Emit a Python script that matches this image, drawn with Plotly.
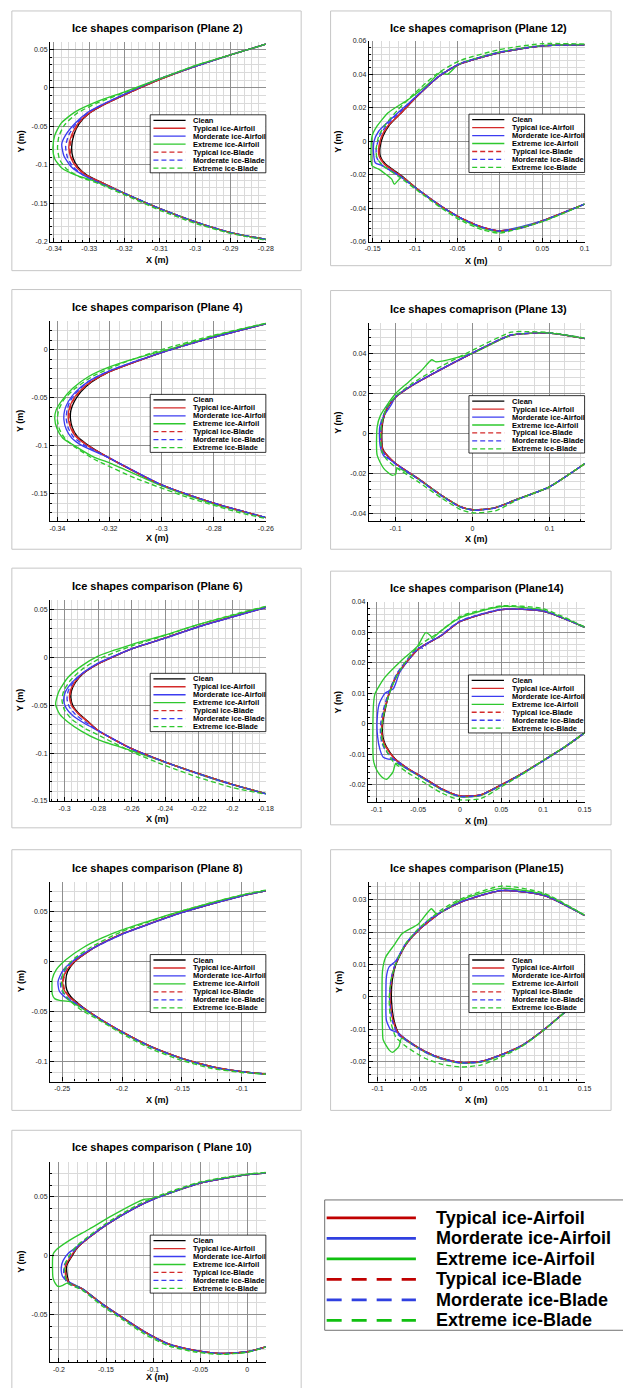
import plotly.graph_objects as go

W, H = 623, 1388
FONT = "Liberation Sans"

SERIES = ["Clean", "Typical ice-Airfoil", "Morderate ice-Airfoil", "Extreme ice-Airfoil",
          "Typical ice-Blade", "Morderate ice-Blade", "Extreme ice-Blade"]
KEY_SERIES = SERIES[1:]

TITLES = ["Ice shapes comparison (Plane 2)", "Ice shapes comaprison (Plane 12)",
          "Ice shapes comparison (Plane 4)", "Ice shapes comaprison (Plane 13)",
          "Ice shapes comparison (Plane 6)", "Ice shapes comparison (Plane14)",
          "Ice shapes comparison (Plane 8)", "Ice shapes comparison (Plane15)",
          "Ice shapes comparison ( Plane 10)"]

# ---------------- Plane 2 ----------------
P2_XT = [-0.34, -0.33, -0.32, -0.31, -0.30, -0.29, -0.28]
P2_YT = [-0.2, -0.15, -0.1, -0.05, 0, 0.05]
P2_CLEAN_X = [-0.28, -0.29, -0.30, -0.31, -0.32, -0.326, -0.330, -0.3328, -0.3343, -0.3350, -0.3346, -0.3332, -0.3305, -0.326, -0.32, -0.31, -0.30, -0.29, -0.28]
P2_CLEAN_Y = [0.057, 0.043, 0.028, 0.011, -0.009, -0.022, -0.033, -0.046, -0.060, -0.077, -0.091, -0.103, -0.114, -0.124, -0.137, -0.157, -0.174, -0.188, -0.197]
P2_TYP_AF_X = [-0.28, -0.29, -0.30, -0.31, -0.32, -0.326, -0.3302, -0.3332, -0.3350, -0.3358, -0.3352, -0.3336, -0.3308, -0.326, -0.32, -0.31, -0.30, -0.29, -0.28]
P2_TYP_AF_Y = [0.057, 0.043, 0.028, 0.011, -0.009, -0.022, -0.033, -0.046, -0.061, -0.077, -0.091, -0.103, -0.114, -0.124, -0.137, -0.157, -0.174, -0.188, -0.197]
P2_MOD_AF_X = [-0.28, -0.29, -0.30, -0.31, -0.32, -0.326, -0.3305, -0.3340, -0.3368, -0.3378, -0.3372, -0.3352, -0.3318, -0.327, -0.32, -0.31, -0.30, -0.29, -0.28]
P2_MOD_AF_Y = [0.057, 0.043, 0.028, 0.012, -0.008, -0.021, -0.032, -0.046, -0.062, -0.073, -0.088, -0.102, -0.113, -0.123, -0.137, -0.157, -0.174, -0.188, -0.197]
P2_EXT_AF_X = [-0.28, -0.29, -0.30, -0.31, -0.32, -0.328, -0.334, -0.3380, -0.3398, -0.3403, -0.3398, -0.3378, -0.334, -0.328, -0.32, -0.31, -0.30, -0.29, -0.28]
P2_EXT_AF_Y = [0.057, 0.043, 0.029, 0.012, -0.005, -0.018, -0.031, -0.046, -0.062, -0.078, -0.092, -0.104, -0.113, -0.122, -0.137, -0.157, -0.174, -0.188, -0.197]
P2_TYP_BL_X = [-0.28, -0.29, -0.30, -0.31, -0.32, -0.326, -0.3301, -0.3330, -0.3347, -0.3355, -0.3350, -0.3334, -0.3306, -0.326, -0.32, -0.31, -0.30, -0.29, -0.28]
P2_TYP_BL_Y = [0.057, 0.043, 0.028, 0.011, -0.009, -0.022, -0.033, -0.046, -0.061, -0.077, -0.091, -0.103, -0.114, -0.124, -0.137, -0.157, -0.174, -0.188, -0.197]
P2_MOD_BL_X = [-0.28, -0.29, -0.30, -0.31, -0.32, -0.326, -0.3304, -0.3336, -0.3358, -0.3367, -0.3362, -0.3345, -0.3314, -0.327, -0.32, -0.31, -0.30, -0.29, -0.28]
P2_MOD_BL_Y = [0.057, 0.043, 0.028, 0.012, -0.008, -0.021, -0.032, -0.046, -0.061, -0.076, -0.090, -0.103, -0.114, -0.124, -0.137, -0.157, -0.174, -0.188, -0.197]
P2_EXT_BL_X = [-0.28, -0.29, -0.30, -0.31, -0.32, -0.328, -0.3335, -0.3370, -0.3386, -0.3390, -0.3384, -0.3365, -0.3330, -0.327, -0.32, -0.31, -0.30, -0.29, -0.28]
P2_EXT_BL_Y = [0.057, 0.043, 0.029, 0.012, -0.006, -0.020, -0.033, -0.048, -0.063, -0.078, -0.093, -0.105, -0.115, -0.125, -0.139, -0.159, -0.176, -0.189, -0.198]

# ---------------- Plane 12 ----------------
P12_XT = [-0.15, -0.1, -0.05, 0, 0.05, 0.1]
P12_YT = [-0.06, -0.04, -0.02, 0, 0.02, 0.04, 0.06]
P12_CLEAN_X = [0.10, 0.05, 0.0, -0.048, -0.072, -0.097, -0.116, -0.131, -0.138, -0.1415, -0.141, -0.135, -0.116, -0.097, -0.070, -0.047, -0.020, 0.0, 0.027, 0.05, 0.10]
P12_CLEAN_Y = [0.0576, 0.057, 0.053, 0.046, 0.0387, 0.0272, 0.0172, 0.0093, 0.003, -0.004, -0.009, -0.0136, -0.0206, -0.0286, -0.0385, -0.0455, -0.0514, -0.0535, -0.0514, -0.0475, -0.0375]
P12_TYP_AF_X = [0.10, 0.05, 0.0, -0.048, -0.072, -0.097, -0.116, -0.132, -0.1395, -0.1430, -0.1425, -0.1365, -0.117, -0.097, -0.070, -0.047, -0.020, 0.0, 0.027, 0.05, 0.10]
P12_TYP_AF_Y = [0.0576, 0.057, 0.053, 0.046, 0.0387, 0.0272, 0.0172, 0.0093, 0.003, -0.004, -0.009, -0.0136, -0.0206, -0.0286, -0.0385, -0.0455, -0.0514, -0.0535, -0.0514, -0.0475, -0.0375]
P12_MOD_AF_X = [0.10, 0.05, 0.0, -0.048, -0.072, -0.097, -0.117, -0.132, -0.143, -0.1485, -0.149, -0.147, -0.139, -0.118, -0.097, -0.070, -0.047, -0.020, 0.0, 0.05, 0.10]
P12_MOD_AF_Y = [0.0576, 0.057, 0.053, 0.046, 0.0387, 0.0275, 0.0185, 0.0115, 0.006, 0.000, -0.007, -0.0128, -0.0145, -0.0208, -0.0286, -0.0385, -0.0455, -0.0514, -0.0535, -0.0475, -0.0375]
P12_EXT_AF_X = [0.10, 0.05, 0.0, -0.048, -0.062, -0.0697, -0.085, -0.108, -0.1315, -0.145, -0.1508, -0.1508, -0.143, -0.1276, -0.1245, -0.116, -0.097, -0.070, -0.047, -0.020, 0.0, 0.05, 0.10]
P12_EXT_AF_Y = [0.0578, 0.0572, 0.0533, 0.0462, 0.040, 0.0415, 0.034, 0.025, 0.0172, 0.009, 0.003, -0.0146, -0.0166, -0.0226, -0.0256, -0.0215, -0.0288, -0.0388, -0.046, -0.052, -0.054, -0.0478, -0.0375]
P12_TYP_BL_X = [0.10, 0.05, 0.0, -0.048, -0.072, -0.097, -0.116, -0.1318, -0.1390, -0.1425, -0.1420, -0.1362, -0.1165, -0.097, -0.070, -0.047, -0.020, 0.0, 0.027, 0.05, 0.10]
P12_TYP_BL_Y = [0.0576, 0.057, 0.053, 0.046, 0.0387, 0.0272, 0.0172, 0.0093, 0.003, -0.004, -0.009, -0.0136, -0.0206, -0.0286, -0.0385, -0.0455, -0.0514, -0.0535, -0.0514, -0.0475, -0.0375]
P12_MOD_BL_X = [0.10, 0.05, 0.0, -0.048, -0.072, -0.097, -0.117, -0.133, -0.1415, -0.1458, -0.1455, -0.1395, -0.118, -0.097, -0.070, -0.047, -0.020, 0.0, 0.027, 0.05, 0.10]
P12_MOD_BL_Y = [0.0576, 0.057, 0.0532, 0.0462, 0.0389, 0.0276, 0.0180, 0.0100, 0.0035, -0.0040, -0.0095, -0.0140, -0.0208, -0.0288, -0.0387, -0.0457, -0.0516, -0.0537, -0.0515, -0.0476, -0.0375]
P12_EXT_BL_X = [0.10, 0.05, 0.0, -0.048, -0.075, -0.10, -0.12, -0.135, -0.143, -0.146, -0.145, -0.138, -0.118, -0.097, -0.070, -0.047, -0.020, 0.0, 0.05, 0.10]
P12_EXT_BL_Y = [0.0580, 0.0583, 0.0548, 0.048, 0.040, 0.029, 0.019, 0.010, 0.003, -0.005, -0.010, -0.0145, -0.0215, -0.0295, -0.0395, -0.047, -0.053, -0.0548, -0.048, -0.0375]

# ---------------- Plane 4 ----------------
P4_XT = [-0.34, -0.32, -0.30, -0.28, -0.26]
P4_YT = [-0.15, -0.1, -0.05, 0]
P4_CLEAN_X = [-0.26, -0.28, -0.30, -0.32, -0.327, -0.331, -0.3335, -0.3348, -0.3350, -0.3343, -0.3325, -0.329, -0.32, -0.30, -0.28, -0.26]
P4_CLEAN_Y = [0.027, 0.013, -0.003, -0.023, -0.034, -0.044, -0.054, -0.063, -0.072, -0.081, -0.090, -0.098, -0.113, -0.141, -0.160, -0.175]
P4_TYP_AF_X = [-0.26, -0.28, -0.30, -0.32, -0.3275, -0.3318, -0.3344, -0.3356, -0.3358, -0.3350, -0.3331, -0.3295, -0.32, -0.30, -0.28, -0.26]
P4_TYP_AF_Y = [0.027, 0.013, -0.003, -0.023, -0.034, -0.044, -0.054, -0.063, -0.072, -0.081, -0.090, -0.098, -0.113, -0.141, -0.160, -0.175]
P4_MOD_AF_X = [-0.26, -0.28, -0.30, -0.32, -0.328, -0.333, -0.3358, -0.3372, -0.3375, -0.3366, -0.3345, -0.3305, -0.32, -0.30, -0.28, -0.26]
P4_MOD_AF_Y = [0.027, 0.013, -0.003, -0.022, -0.033, -0.044, -0.054, -0.063, -0.073, -0.083, -0.092, -0.100, -0.113, -0.141, -0.160, -0.175]
P4_EXT_AF_X = [-0.26, -0.28, -0.295, -0.31, -0.32, -0.328, -0.334, -0.338, -0.3405, -0.3410, -0.3402, -0.338, -0.3335, -0.326, -0.32, -0.30, -0.28, -0.26]
P4_EXT_AF_Y = [0.0275, 0.0145, 0.002, -0.009, -0.018, -0.028, -0.040, -0.052, -0.063, -0.072, -0.082, -0.092, -0.100, -0.112, -0.118, -0.142, -0.161, -0.175]
P4_TYP_BL_X = [-0.26, -0.28, -0.30, -0.32, -0.3273, -0.3315, -0.3341, -0.3353, -0.3355, -0.3347, -0.3328, -0.3293, -0.32, -0.30, -0.28, -0.26]
P4_TYP_BL_Y = [0.027, 0.013, -0.003, -0.023, -0.034, -0.044, -0.054, -0.063, -0.072, -0.081, -0.090, -0.098, -0.113, -0.141, -0.160, -0.175]
P4_MOD_BL_X = [-0.26, -0.28, -0.30, -0.32, -0.328, -0.3325, -0.3352, -0.3363, -0.3366, -0.3358, -0.3338, -0.3300, -0.32, -0.30, -0.28, -0.26]
P4_MOD_BL_Y = [0.027, 0.013, -0.003, -0.022, -0.033, -0.044, -0.054, -0.063, -0.072, -0.082, -0.091, -0.099, -0.113, -0.141, -0.160, -0.175]
P4_EXT_BL_X = [-0.26, -0.28, -0.30, -0.315, -0.326, -0.333, -0.3375, -0.3395, -0.3400, -0.3392, -0.337, -0.333, -0.326, -0.31, -0.29, -0.27, -0.26]
P4_EXT_BL_Y = [0.0275, 0.0150, 0.000, -0.014, -0.027, -0.040, -0.052, -0.063, -0.073, -0.083, -0.093, -0.102, -0.114, -0.134, -0.154, -0.170, -0.176]

# ---------------- Plane 13 ----------------
P13_XT = [-0.1, 0, 0.1]
P13_YT = [-0.04, -0.02, 0, 0.02, 0.04]
P13_CLEAN_X = [0.146, 0.10, 0.05, 0.0, -0.05, -0.08, -0.10, -0.111, -0.1165, -0.118, -0.1165, -0.111, -0.10, -0.071, -0.041, -0.016, 0.0, 0.027, 0.061, 0.10, 0.146]
P13_CLEAN_Y = [0.0473, 0.0500, 0.0490, 0.0400, 0.0300, 0.0235, 0.0180, 0.0125, 0.006, -0.002, -0.008, -0.011, -0.0152, -0.0226, -0.0309, -0.0367, -0.0383, -0.0375, -0.0326, -0.0268, -0.0152]
P13_TYP_AF_X = [0.146, 0.10, 0.05, 0.0, -0.05, -0.08, -0.10, -0.1115, -0.1172, -0.1188, -0.1172, -0.1115, -0.10, -0.071, -0.041, -0.016, 0.0, 0.027, 0.061, 0.10, 0.146]
P13_TYP_AF_Y = [0.0473, 0.0500, 0.0490, 0.0400, 0.0300, 0.0235, 0.0180, 0.0125, 0.006, -0.002, -0.008, -0.011, -0.0152, -0.0226, -0.0309, -0.0367, -0.0383, -0.0375, -0.0326, -0.0268, -0.0152]
P13_MOD_AF_X = [0.146, 0.10, 0.05, 0.0, -0.05, -0.08, -0.10, -0.106, -0.1155, -0.1205, -0.121, -0.1195, -0.1150, -0.109, -0.10, -0.071, -0.041, -0.016, 0.0, 0.027, 0.061, 0.10, 0.146]
P13_MOD_AF_Y = [0.0473, 0.0500, 0.0490, 0.0400, 0.0300, 0.0236, 0.0182, 0.0140, 0.0085, 0.0035, -0.002, -0.0075, -0.0115, -0.0128, -0.0153, -0.0227, -0.0310, -0.0368, -0.0384, -0.0376, -0.0326, -0.0268, -0.0152]
P13_EXT_AF_X = [0.146, 0.10, 0.05, 0.0, -0.0476, -0.053, -0.0667, -0.0837, -0.1006, -0.1197, -0.124, -0.124, -0.1155, -0.105, -0.100, -0.098, -0.071, -0.041, -0.016, 0.0, 0.027, 0.061, 0.10, 0.146]
P13_EXT_AF_Y = [0.0473, 0.0500, 0.0490, 0.0400, 0.0357, 0.0367, 0.0312, 0.0254, 0.0196, 0.0089, 0.0030, -0.0110, -0.0176, -0.0210, -0.0205, -0.0175, -0.0228, -0.0310, -0.0368, -0.0384, -0.0375, -0.0326, -0.0268, -0.0152]
P13_TYP_BL_X = [0.146, 0.10, 0.05, 0.0, -0.05, -0.08, -0.10, -0.1112, -0.1168, -0.1184, -0.1168, -0.1112, -0.10, -0.071, -0.041, -0.016, 0.0, 0.027, 0.061, 0.10, 0.146]
P13_TYP_BL_Y = [0.0473, 0.0500, 0.0490, 0.0400, 0.0300, 0.0235, 0.0180, 0.0125, 0.006, -0.002, -0.008, -0.011, -0.0152, -0.0226, -0.0309, -0.0367, -0.0383, -0.0375, -0.0326, -0.0268, -0.0152]
P13_MOD_BL_X = [0.146, 0.10, 0.05, 0.0, -0.05, -0.08, -0.10, -0.112, -0.118, -0.1195, -0.118, -0.112, -0.10, -0.071, -0.041, -0.016, 0.0, 0.027, 0.061, 0.10, 0.146]
P13_MOD_BL_Y = [0.0474, 0.0501, 0.0491, 0.0402, 0.0302, 0.0237, 0.0182, 0.0127, 0.0060, -0.0020, -0.0085, -0.0115, -0.0155, -0.0229, -0.0312, -0.0370, -0.0385, -0.0376, -0.0327, -0.0268, -0.0152]
P13_EXT_BL_X = [0.146, 0.10, 0.07, 0.05, 0.0, -0.05, -0.08, -0.10, -0.112, -0.118, -0.1195, -0.118, -0.112, -0.10, -0.07, -0.04, -0.015, 0.0, 0.03, 0.061, 0.10, 0.146]
P13_EXT_BL_Y = [0.0475, 0.0503, 0.0508, 0.0505, 0.0415, 0.0315, 0.0245, 0.0185, 0.0125, 0.005, -0.002, -0.009, -0.013, -0.0170, -0.0245, -0.0325, -0.0383, -0.0398, -0.0388, -0.0328, -0.0268, -0.0152]

# ---------------- Plane 6 ----------------
P6_XT = [-0.3, -0.28, -0.26, -0.24, -0.22, -0.2, -0.18]
P6_YT = [-0.15, -0.1, -0.05, 0, 0.05]
P6_CLEAN_X = [-0.18, -0.20, -0.22, -0.24, -0.26, -0.28, -0.289, -0.2935, -0.2958, -0.2962, -0.2950, -0.2915, -0.286, -0.28, -0.26, -0.24, -0.22, -0.20, -0.18]
P6_CLEAN_Y = [0.0524, 0.0425, 0.0323, 0.0204, 0.0090, -0.0067, -0.0170, -0.0260, -0.0345, -0.0425, -0.0505, -0.0585, -0.0670, -0.0763, -0.0954, -0.1093, -0.1215, -0.1326, -0.1424]
P6_TYP_AF_X = [-0.18, -0.20, -0.22, -0.24, -0.26, -0.28, -0.2893, -0.2940, -0.2965, -0.2970, -0.2957, -0.2920, -0.2863, -0.28, -0.26, -0.24, -0.22, -0.20, -0.18]
P6_TYP_AF_Y = [0.0524, 0.0425, 0.0323, 0.0204, 0.0090, -0.0067, -0.0170, -0.0260, -0.0345, -0.0425, -0.0505, -0.0585, -0.0670, -0.0763, -0.0954, -0.1093, -0.1215, -0.1326, -0.1424]
P6_MOD_AF_X = [-0.18, -0.20, -0.22, -0.24, -0.26, -0.28, -0.289, -0.2955, -0.2995, -0.3005, -0.2990, -0.2950, -0.288, -0.28, -0.26, -0.24, -0.22, -0.20, -0.18]
P6_MOD_AF_Y = [0.0522, 0.0423, 0.0321, 0.0202, 0.0090, -0.0060, -0.0160, -0.0260, -0.0360, -0.0450, -0.0530, -0.0610, -0.0690, -0.0765, -0.0955, -0.1095, -0.1218, -0.1330, -0.1426]
P6_EXT_AF_X = [-0.18, -0.20, -0.22, -0.24, -0.26, -0.28, -0.29, -0.298, -0.3035, -0.3053, -0.303, -0.298, -0.29, -0.28, -0.27, -0.26, -0.24, -0.22, -0.20, -0.18]
P6_EXT_AF_Y = [0.0530, 0.0440, 0.0345, 0.0235, 0.0135, 0.0015, -0.0090, -0.0210, -0.0360, -0.0490, -0.0590, -0.0675, -0.0770, -0.0860, -0.0920, -0.0975, -0.1095, -0.1218, -0.1328, -0.1424]
P6_TYP_BL_X = [-0.18, -0.20, -0.22, -0.24, -0.26, -0.28, -0.2892, -0.2938, -0.2962, -0.2967, -0.2955, -0.2918, -0.2862, -0.28, -0.26, -0.24, -0.22, -0.20, -0.18]
P6_TYP_BL_Y = [0.0524, 0.0425, 0.0323, 0.0204, 0.0090, -0.0067, -0.0170, -0.0260, -0.0345, -0.0425, -0.0505, -0.0585, -0.0670, -0.0763, -0.0954, -0.1093, -0.1215, -0.1326, -0.1424]
P6_MOD_BL_X = [-0.18, -0.20, -0.22, -0.24, -0.26, -0.28, -0.2892, -0.2948, -0.2978, -0.2985, -0.2972, -0.2935, -0.2872, -0.28, -0.26, -0.24, -0.22, -0.20, -0.18]
P6_MOD_BL_Y = [0.0523, 0.0424, 0.0322, 0.0203, 0.0090, -0.0063, -0.0165, -0.0260, -0.0350, -0.0435, -0.0515, -0.0595, -0.0680, -0.0764, -0.0955, -0.1094, -0.1217, -0.1328, -0.1425]
P6_EXT_BL_X = [-0.18, -0.20, -0.22, -0.24, -0.26, -0.28, -0.29, -0.2965, -0.3005, -0.3015, -0.300, -0.296, -0.288, -0.28, -0.26, -0.24, -0.22, -0.20, -0.18]
P6_EXT_BL_Y = [0.0535, 0.0445, 0.0345, 0.0230, 0.0120, -0.0020, -0.0130, -0.0240, -0.0350, -0.0450, -0.0550, -0.0640, -0.0740, -0.0810, -0.0985, -0.1130, -0.1255, -0.1360, -0.1430]

# ---------------- Plane 14 ----------------
P14_XT = [-0.1, -0.05, 0, 0.05, 0.1, 0.15]
P14_YT = [-0.02, -0.01, 0, 0.01, 0.02, 0.03, 0.04]
P14_CLEAN_X = [0.15, 0.10, 0.05, 0.0, -0.023, -0.05, -0.075, -0.085, -0.090, -0.0925, -0.0930, -0.0915, -0.0882, -0.0783, -0.0626, -0.0429, -0.0232, 0.0, 0.0248, 0.0496, 0.0752, 0.1008, 0.1264, 0.15]
P14_CLEAN_Y = [0.0317, 0.0370, 0.0375, 0.0335, 0.0288, 0.0245, 0.0163, 0.0098, 0.0043, 0.0005, -0.0030, -0.0055, -0.0076, -0.0114, -0.0147, -0.0179, -0.0212, -0.0237, -0.0234, -0.0201, -0.0163, -0.0120, -0.0076, -0.0030]
P14_TYP_AF_X = [0.15, 0.10, 0.05, 0.0, -0.023, -0.05, -0.075, -0.0855, -0.0908, -0.0935, -0.0942, -0.0925, -0.0890, -0.0788, -0.0626, -0.0429, -0.0232, 0.0, 0.0248, 0.0496, 0.0752, 0.1008, 0.1264, 0.15]
P14_TYP_AF_Y = [0.0317, 0.0370, 0.0375, 0.0335, 0.0288, 0.0245, 0.0163, 0.0098, 0.0043, 0.0005, -0.0030, -0.0055, -0.0076, -0.0114, -0.0147, -0.0179, -0.0212, -0.0237, -0.0234, -0.0201, -0.0163, -0.0120, -0.0076, -0.0030]
P14_MOD_AF_X = [0.15, 0.10, 0.05, 0.0, -0.023, -0.05, -0.072, -0.080, -0.090, -0.097, -0.0995, -0.099, -0.0960, -0.0921, -0.0862, -0.0783, -0.0626, -0.0429, -0.0232, 0.0, 0.0248, 0.0496, 0.0752, 0.1008, 0.1264, 0.15]
P14_MOD_AF_Y = [0.0317, 0.0370, 0.0375, 0.0336, 0.0289, 0.0246, 0.0170, 0.0115, 0.0100, 0.0065, 0.0010, -0.0040, -0.0085, -0.0110, -0.0116, -0.0118, -0.0148, -0.0180, -0.0213, -0.0238, -0.0235, -0.0202, -0.0164, -0.0121, -0.0076, -0.0030]
P14_EXT_AF_X = [0.15, 0.10, 0.05, 0.0, -0.025, -0.033, -0.035, -0.041, -0.0508, -0.0705, -0.0902, -0.102, -0.1039, -0.1039, -0.100, -0.0941, -0.0882, -0.0803, -0.077, -0.0626, -0.0429, -0.0232, 0.0, 0.0248, 0.0496, 0.0752, 0.1008, 0.1264, 0.15]
P14_EXT_AF_Y = [0.0316, 0.0373, 0.0385, 0.0348, 0.0300, 0.0280, 0.0288, 0.0299, 0.0255, 0.0207, 0.0152, 0.0098, 0.0060, -0.0120, -0.0152, -0.0174, -0.0183, -0.0158, -0.0130, -0.0150, -0.0182, -0.0215, -0.0240, -0.0236, -0.0202, -0.0164, -0.0120, -0.0076, -0.0030]
P14_TYP_BL_X = [0.15, 0.10, 0.05, 0.0, -0.023, -0.05, -0.075, -0.0853, -0.0905, -0.0932, -0.0938, -0.0922, -0.0887, -0.0786, -0.0626, -0.0429, -0.0232, 0.0, 0.0248, 0.0496, 0.0752, 0.1008, 0.1264, 0.15]
P14_TYP_BL_Y = [0.0317, 0.0370, 0.0375, 0.0335, 0.0288, 0.0245, 0.0163, 0.0098, 0.0043, 0.0005, -0.0030, -0.0055, -0.0076, -0.0114, -0.0147, -0.0179, -0.0212, -0.0237, -0.0234, -0.0201, -0.0163, -0.0120, -0.0076, -0.0030]
P14_MOD_BL_X = [0.15, 0.10, 0.05, 0.0, -0.023, -0.040, -0.044, -0.050, -0.075, -0.086, -0.0920, -0.0950, -0.0955, -0.0940, -0.0900, -0.0795, -0.0626, -0.0429, -0.0232, 0.0, 0.0248, 0.0496, 0.0752, 0.1008, 0.1264, 0.15]
P14_MOD_BL_Y = [0.0317, 0.0371, 0.0376, 0.0337, 0.0290, 0.0262, 0.0248, 0.0250, 0.0168, 0.0100, 0.0045, 0.0005, -0.0030, -0.0060, -0.0085, -0.0118, -0.0149, -0.0181, -0.0214, -0.0239, -0.0235, -0.0202, -0.0164, -0.0121, -0.0076, -0.0030]
P14_EXT_BL_X = [0.15, 0.10, 0.05, 0.0, -0.025, -0.05, -0.07, -0.082, -0.089, -0.093, -0.0945, -0.093, -0.089, -0.080, -0.063, -0.043, -0.023, 0.0, 0.025, 0.05, 0.075, 0.10, 0.126, 0.15]
P14_EXT_BL_Y = [0.0318, 0.0378, 0.0387, 0.0352, 0.0300, 0.0255, 0.0185, 0.0120, 0.0060, 0.0010, -0.0030, -0.0060, -0.0085, -0.0125, -0.0160, -0.0193, -0.0226, -0.0250, -0.0246, -0.0207, -0.0166, -0.0121, -0.0076, -0.0030]

# ---------------- Plane 8 ----------------
P8_XT = [-0.25, -0.2, -0.15, -0.1]
P8_YT = [-0.1, -0.05, 0, 0.05]
P8_CLEAN_X = [-0.08, -0.10, -0.15, -0.20, -0.225, -0.240, -0.2455, -0.2470, -0.2462, -0.2426, -0.2330, -0.2167, -0.20, -0.1757, -0.15, -0.1249, -0.10, -0.08]
P8_CLEAN_Y = [0.0705, 0.0655, 0.0490, 0.0275, 0.0127, -0.0006, -0.0100, -0.0190, -0.0280, -0.0353, -0.0452, -0.0584, -0.0700, -0.0848, -0.0964, -0.1047, -0.1096, -0.1120]
P8_TYP_AF_X = [-0.08, -0.10, -0.15, -0.20, -0.225, -0.2405, -0.2470, -0.2495, -0.2485, -0.2440, -0.2335, -0.2167, -0.20, -0.1757, -0.15, -0.1249, -0.10, -0.08]
P8_TYP_AF_Y = [0.0705, 0.0655, 0.0490, 0.0275, 0.0127, -0.0006, -0.0100, -0.0190, -0.0280, -0.0353, -0.0452, -0.0584, -0.0700, -0.0848, -0.0964, -0.1047, -0.1096, -0.1120]
P8_MOD_AF_X = [-0.08, -0.10, -0.15, -0.20, -0.225, -0.240, -0.2495, -0.2535, -0.2525, -0.2470, -0.2340, -0.2167, -0.20, -0.1757, -0.15, -0.1249, -0.10, -0.08]
P8_MOD_AF_Y = [0.0705, 0.0653, 0.0488, 0.0272, 0.0128, 0.0015, -0.0090, -0.0200, -0.0290, -0.0360, -0.0455, -0.0586, -0.0702, -0.0850, -0.0966, -0.1049, -0.1097, -0.1120]
P8_EXT_AF_X = [-0.08, -0.10, -0.15, -0.1757, -0.20, -0.2167, -0.2330, -0.2467, -0.2549, -0.2582, -0.2582, -0.2563, -0.2522, -0.2426, -0.2330, -0.2167, -0.20, -0.1757, -0.15, -0.1249, -0.10, -0.08]
P8_EXT_AF_Y = [0.0708, 0.0662, 0.0505, 0.0410, 0.0315, 0.0235, 0.0135, 0.0020, -0.0080, -0.0170, -0.0330, -0.0369, -0.0386, -0.0402, -0.0468, -0.0590, -0.0705, -0.0852, -0.0968, -0.1050, -0.1098, -0.1120]
P8_TYP_BL_X = [-0.08, -0.10, -0.15, -0.20, -0.225, -0.2403, -0.2467, -0.2490, -0.2480, -0.2436, -0.2333, -0.2167, -0.20, -0.1757, -0.15, -0.1249, -0.10, -0.08]
P8_TYP_BL_Y = [0.0705, 0.0655, 0.0490, 0.0275, 0.0127, -0.0006, -0.0100, -0.0190, -0.0280, -0.0353, -0.0452, -0.0584, -0.0700, -0.0848, -0.0964, -0.1047, -0.1096, -0.1120]
P8_MOD_BL_X = [-0.08, -0.10, -0.15, -0.20, -0.225, -0.2405, -0.2480, -0.2515, -0.2505, -0.2455, -0.2338, -0.2167, -0.20, -0.1757, -0.15, -0.1249, -0.10, -0.08]
P8_MOD_BL_Y = [0.0706, 0.0655, 0.0489, 0.0274, 0.0128, 0.0008, -0.0092, -0.0195, -0.0285, -0.0357, -0.0454, -0.0586, -0.0702, -0.0851, -0.0967, -0.1050, -0.1098, -0.1121]
P8_EXT_BL_X = [-0.08, -0.10, -0.15, -0.20, -0.225, -0.240, -0.248, -0.2505, -0.2495, -0.2455, -0.2350, -0.2167, -0.20, -0.1757, -0.15, -0.1249, -0.10, -0.08]
P8_EXT_BL_Y = [0.0712, 0.0665, 0.0505, 0.0300, 0.0150, 0.0030, -0.0080, -0.0190, -0.0290, -0.0370, -0.0475, -0.0600, -0.0720, -0.0870, -0.0985, -0.1065, -0.1105, -0.1122]

# ---------------- Plane 15 ----------------
P15_XT = [-0.1, -0.05, 0, 0.05, 0.1, 0.15]
P15_YT = [-0.02, -0.01, 0, 0.01, 0.02, 0.03]
P15_CLEAN_X = [0.15, 0.1008, 0.0496, 0.0, -0.0232, -0.0508, -0.0665, -0.0783, -0.0823, -0.0833, -0.0803, -0.0744, -0.0626, -0.0429, -0.0232, 0.0, 0.0248, 0.0496, 0.0752, 0.1008, 0.1250, 0.15]
P15_CLEAN_Y = [0.0251, 0.0313, 0.0328, 0.0292, 0.0261, 0.0205, 0.0159, 0.0097, 0.0051, -0.0010, -0.0072, -0.0113, -0.0138, -0.0169, -0.0190, -0.0203, -0.0200, -0.0179, -0.0149, -0.0102, -0.0050, 0.0005]
P15_TYP_AF_X = [0.15, 0.1008, 0.0496, 0.0, -0.0232, -0.0508, -0.0665, -0.0790, -0.0835, -0.0848, -0.0815, -0.0750, -0.0626, -0.0429, -0.0232, 0.0, 0.0248, 0.0496, 0.0752, 0.1008, 0.1250, 0.15]
P15_TYP_AF_Y = [0.0251, 0.0313, 0.0328, 0.0292, 0.0261, 0.0205, 0.0159, 0.0097, 0.0051, -0.0010, -0.0072, -0.0113, -0.0138, -0.0169, -0.0190, -0.0203, -0.0200, -0.0179, -0.0149, -0.0102, -0.0050, 0.0005]
P15_MOD_AF_X = [0.15, 0.1008, 0.0496, 0.0, -0.0232, -0.0508, -0.0665, -0.0783, -0.0862, -0.0894, -0.0900, -0.0894, -0.0843, -0.0764, -0.0626, -0.0429, -0.0232, 0.0, 0.0248, 0.0496, 0.0752, 0.1008, 0.125, 0.15]
P15_MOD_AF_Y = [0.0251, 0.0313, 0.0328, 0.0292, 0.0261, 0.0206, 0.0162, 0.0110, 0.0092, 0.0061, -0.0005, -0.0072, -0.0102, -0.0110, -0.0138, -0.0169, -0.0190, -0.0203, -0.0200, -0.0179, -0.0149, -0.0102, -0.0050, 0.0005]
P15_EXT_AF_X = [0.15, 0.1008, 0.0496, 0.0, -0.0232, -0.0291, -0.035, -0.0508, -0.0705, -0.0803, -0.0902, -0.0941, -0.0941, -0.0933, -0.0862, -0.0823, -0.0744, -0.0710, -0.0626, -0.0429, -0.0232, 0.0, 0.0248, 0.0496, 0.0752, 0.1008, 0.125, 0.15]
P15_EXT_AF_Y = [0.0252, 0.0316, 0.0335, 0.0298, 0.0262, 0.0256, 0.0272, 0.0225, 0.0195, 0.0159, 0.0123, 0.0080, -0.0100, -0.0133, -0.0164, -0.0172, -0.0154, -0.0128, -0.0140, -0.0171, -0.0192, -0.0205, -0.0202, -0.0180, -0.0150, -0.0103, -0.0050, 0.0005]
P15_TYP_BL_X = [0.15, 0.1008, 0.0496, 0.0, -0.0232, -0.0508, -0.0665, -0.0788, -0.0832, -0.0845, -0.0812, -0.0748, -0.0626, -0.0429, -0.0232, 0.0, 0.0248, 0.0496, 0.0752, 0.1008, 0.1250, 0.15]
P15_TYP_BL_Y = [0.0251, 0.0313, 0.0328, 0.0292, 0.0261, 0.0205, 0.0159, 0.0097, 0.0051, -0.0010, -0.0072, -0.0113, -0.0138, -0.0169, -0.0190, -0.0203, -0.0200, -0.0179, -0.0149, -0.0102, -0.0050, 0.0005]
P15_MOD_BL_X = [0.15, 0.1008, 0.0496, 0.0, -0.0232, -0.032, -0.036, -0.0508, -0.0665, -0.0790, -0.0840, -0.0855, -0.0822, -0.0755, -0.0626, -0.0429, -0.0232, 0.0, 0.0248, 0.0496, 0.0752, 0.1008, 0.125, 0.15]
P15_MOD_BL_Y = [0.0251, 0.0314, 0.0329, 0.0293, 0.0262, 0.0248, 0.0243, 0.0208, 0.0162, 0.0100, 0.0052, -0.0010, -0.0075, -0.0116, -0.0140, -0.0171, -0.0192, -0.0205, -0.0201, -0.0180, -0.0150, -0.0102, -0.0050, 0.0005]
P15_EXT_BL_X = [0.15, 0.1008, 0.0496, 0.0, -0.0232, -0.0508, -0.0665, -0.0783, -0.0840, -0.0860, -0.0840, -0.0780, -0.0650, -0.0429, -0.0232, 0.0, 0.0248, 0.0496, 0.0752, 0.1008, 0.125, 0.15]
P15_EXT_BL_Y = [0.0252, 0.0320, 0.0342, 0.0302, 0.0268, 0.0210, 0.0163, 0.0100, 0.0050, -0.0010, -0.0078, -0.0125, -0.0155, -0.0190, -0.0208, -0.0217, -0.0211, -0.0186, -0.0152, -0.0103, -0.0050, 0.0005]

# ---------------- Plane 10 ----------------
P10_XT = [-0.2, -0.15, -0.1, -0.05, 0]
P10_YT = [-0.05, 0, 0.05]
P10_CLEAN_X = [0.0198, 0.0, -0.0497, -0.0984, -0.1193, -0.1489, -0.168, -0.1802, -0.1871, -0.1915, -0.1917, -0.1889, -0.175, -0.1541, -0.1332, -0.1089, -0.0845, -0.0567, -0.0289, 0.0, 0.0198]
P10_CLEAN_Y = [0.0703, 0.0689, 0.0618, 0.0486, 0.0407, 0.0266, 0.0154, 0.0069, -0.0016, -0.0080, -0.0140, -0.0227, -0.0283, -0.0410, -0.0523, -0.0649, -0.0748, -0.0804, -0.0832, -0.0818, -0.0776]
P10_TYP_AF_X = [0.0198, 0.0, -0.0497, -0.0984, -0.1193, -0.1489, -0.168, -0.1808, -0.1880, -0.1928, -0.1935, -0.1900, -0.1755, -0.1541, -0.1332, -0.1089, -0.0845, -0.0567, -0.0289, 0.0, 0.0198]
P10_TYP_AF_Y = [0.0703, 0.0689, 0.0618, 0.0486, 0.0407, 0.0266, 0.0154, 0.0069, -0.0016, -0.0080, -0.0140, -0.0227, -0.0283, -0.0410, -0.0523, -0.0649, -0.0748, -0.0804, -0.0832, -0.0818, -0.0776]
P10_MOD_AF_X = [0.0198, 0.0, -0.0497, -0.0984, -0.1193, -0.1489, -0.168, -0.1810, -0.1900, -0.1955, -0.1975, -0.1965, -0.1930, -0.1889, -0.175, -0.1541, -0.1332, -0.1089, -0.0845, -0.0567, -0.0289, 0.0, 0.0198]
P10_MOD_AF_Y = [0.0703, 0.0689, 0.0617, 0.0484, 0.0405, 0.0266, 0.0156, 0.0075, 0.0020, -0.0040, -0.0100, -0.0170, -0.0205, -0.0225, -0.0283, -0.0410, -0.0523, -0.0649, -0.0748, -0.0804, -0.0832, -0.0818, -0.0776]
P10_EXT_AF_X = [0.0198, 0.0, -0.0497, -0.0984, -0.110, -0.1193, -0.1436, -0.168, -0.1889, -0.2028, -0.2063, -0.2063, -0.2045, -0.2010, -0.1958, -0.1906, -0.175, -0.1541, -0.1332, -0.1089, -0.0845, -0.0567, -0.0289, 0.0, 0.0198]
P10_EXT_AF_Y = [0.0705, 0.0692, 0.0622, 0.0490, 0.0478, 0.0445, 0.0340, 0.0225, 0.0130, 0.0050, 0.0010, -0.0190, -0.0227, -0.0262, -0.0252, -0.0232, -0.0286, -0.0413, -0.0527, -0.0654, -0.0753, -0.0808, -0.0835, -0.0820, -0.0776]
P10_TYP_BL_X = [0.0198, 0.0, -0.0497, -0.0984, -0.1193, -0.1489, -0.168, -0.1806, -0.1877, -0.1924, -0.1930, -0.1896, -0.1753, -0.1541, -0.1332, -0.1089, -0.0845, -0.0567, -0.0289, 0.0, 0.0198]
P10_TYP_BL_Y = [0.0703, 0.0689, 0.0618, 0.0486, 0.0407, 0.0266, 0.0154, 0.0069, -0.0016, -0.0080, -0.0140, -0.0227, -0.0283, -0.0410, -0.0523, -0.0649, -0.0748, -0.0804, -0.0832, -0.0818, -0.0776]
P10_MOD_BL_X = [0.0198, 0.0, -0.0497, -0.0984, -0.1193, -0.1489, -0.168, -0.1810, -0.1888, -0.1940, -0.1950, -0.1915, -0.1755, -0.1541, -0.1332, -0.1089, -0.0845, -0.0567, -0.0289, 0.0, 0.0198]
P10_MOD_BL_Y = [0.0704, 0.0690, 0.0619, 0.0487, 0.0409, 0.0268, 0.0158, 0.0072, -0.0010, -0.0075, -0.0140, -0.0228, -0.0286, -0.0413, -0.0526, -0.0652, -0.0751, -0.0806, -0.0834, -0.0819, -0.0777]
P10_EXT_BL_X = [0.0198, 0.0, -0.0497, -0.0984, -0.1193, -0.1489, -0.168, -0.1815, -0.1890, -0.1935, -0.1940, -0.1910, -0.175, -0.1541, -0.1332, -0.1089, -0.0845, -0.0567, -0.0289, 0.0, 0.0198]
P10_EXT_BL_Y = [0.0708, 0.0694, 0.0628, 0.0498, 0.0420, 0.0280, 0.0168, 0.0080, 0.0000, -0.0070, -0.0140, -0.0232, -0.0295, -0.0428, -0.0540, -0.0668, -0.0765, -0.0818, -0.0840, -0.0822, -0.0778]

CURVES = {
    "P2": [(P2_CLEAN_X, P2_CLEAN_Y), (P2_TYP_AF_X, P2_TYP_AF_Y), (P2_MOD_AF_X, P2_MOD_AF_Y), (P2_EXT_AF_X, P2_EXT_AF_Y),
           (P2_TYP_BL_X, P2_TYP_BL_Y), (P2_MOD_BL_X, P2_MOD_BL_Y), (P2_EXT_BL_X, P2_EXT_BL_Y)],
    "P12": [(P12_CLEAN_X, P12_CLEAN_Y), (P12_TYP_AF_X, P12_TYP_AF_Y), (P12_MOD_AF_X, P12_MOD_AF_Y), (P12_EXT_AF_X, P12_EXT_AF_Y),
            (P12_TYP_BL_X, P12_TYP_BL_Y), (P12_MOD_BL_X, P12_MOD_BL_Y), (P12_EXT_BL_X, P12_EXT_BL_Y)],
    "P4": [(P4_CLEAN_X, P4_CLEAN_Y), (P4_TYP_AF_X, P4_TYP_AF_Y), (P4_MOD_AF_X, P4_MOD_AF_Y), (P4_EXT_AF_X, P4_EXT_AF_Y),
           (P4_TYP_BL_X, P4_TYP_BL_Y), (P4_MOD_BL_X, P4_MOD_BL_Y), (P4_EXT_BL_X, P4_EXT_BL_Y)],
    "P13": [(P13_CLEAN_X, P13_CLEAN_Y), (P13_TYP_AF_X, P13_TYP_AF_Y), (P13_MOD_AF_X, P13_MOD_AF_Y), (P13_EXT_AF_X, P13_EXT_AF_Y),
            (P13_TYP_BL_X, P13_TYP_BL_Y), (P13_MOD_BL_X, P13_MOD_BL_Y), (P13_EXT_BL_X, P13_EXT_BL_Y)],
    "P6": [(P6_CLEAN_X, P6_CLEAN_Y), (P6_TYP_AF_X, P6_TYP_AF_Y), (P6_MOD_AF_X, P6_MOD_AF_Y), (P6_EXT_AF_X, P6_EXT_AF_Y),
           (P6_TYP_BL_X, P6_TYP_BL_Y), (P6_MOD_BL_X, P6_MOD_BL_Y), (P6_EXT_BL_X, P6_EXT_BL_Y)],
    "P14": [(P14_CLEAN_X, P14_CLEAN_Y), (P14_TYP_AF_X, P14_TYP_AF_Y), (P14_MOD_AF_X, P14_MOD_AF_Y), (P14_EXT_AF_X, P14_EXT_AF_Y),
            (P14_TYP_BL_X, P14_TYP_BL_Y), (P14_MOD_BL_X, P14_MOD_BL_Y), (P14_EXT_BL_X, P14_EXT_BL_Y)],
    "P8": [(P8_CLEAN_X, P8_CLEAN_Y), (P8_TYP_AF_X, P8_TYP_AF_Y), (P8_MOD_AF_X, P8_MOD_AF_Y), (P8_EXT_AF_X, P8_EXT_AF_Y),
           (P8_TYP_BL_X, P8_TYP_BL_Y), (P8_MOD_BL_X, P8_MOD_BL_Y), (P8_EXT_BL_X, P8_EXT_BL_Y)],
    "P15": [(P15_CLEAN_X, P15_CLEAN_Y), (P15_TYP_AF_X, P15_TYP_AF_Y), (P15_MOD_AF_X, P15_MOD_AF_Y), (P15_EXT_AF_X, P15_EXT_AF_Y),
            (P15_TYP_BL_X, P15_TYP_BL_Y), (P15_MOD_BL_X, P15_MOD_BL_Y), (P15_EXT_BL_X, P15_EXT_BL_Y)],
    "P10": [(P10_CLEAN_X, P10_CLEAN_Y), (P10_TYP_AF_X, P10_TYP_AF_Y), (P10_MOD_AF_X, P10_MOD_AF_Y), (P10_EXT_AF_X, P10_EXT_AF_Y),
            (P10_TYP_BL_X, P10_TYP_BL_Y), (P10_MOD_BL_X, P10_MOD_BL_Y), (P10_EXT_BL_X, P10_EXT_BL_Y)],
}

# ---------------- styling / layout ----------------
COLORS = ["#000000", "#d42a2a", "#3c3cf0", "#2ec82e", "#d42a2a", "#3c3cf0", "#2ec82e"]
DASHES = ["solid", "solid", "solid", "solid", "5px,3px", "5px,3px", "5px,3px"]
KEY_COLORS = ["#c00000", "#3040e0", "#10c010", "#c00000", "#3040e0", "#10c010"]
KEY_DASH = ["solid", "solid", "solid", "15px,10px", "15px,10px", "15px,10px"]

PANELS = [
    dict(key="P2", xt=P2_XT, yt=P2_YT, box=(47, 38, 267, 239), xr=[-0.3411, -0.28], yr=[-0.2, 0.06],
         xm=0.002, ym=0.01, frame=(8, 7, 303, 268), tx=67, ty=24, xly=257, ylx=17),
    dict(key="P12", xt=P12_XT, yt=P12_YT, box=(372, 37, 592, 239), xr=[-0.1546, 0.1], yr=[-0.06, 0.06],
         xm=0.01, ym=0.004, frame=(333, 7, 619, 263), tx=392, ty=24, xly=258, ylx=341),
    dict(key="P4", xt=P4_XT, yt=P4_YT, box=(47, 319, 267, 520), xr=[-0.3428, -0.26], yr=[-0.179, 0.0295],
         xm=0.004, ym=0.01, frame=(8, 287, 303, 548), tx=67, ty=305, xly=537, ylx=17),
    dict(key="P13", xt=P13_XT, yt=P13_YT, box=(372, 321, 592, 520), xr=[-0.1348, 0.1456], yr=[-0.0441, 0.0549],
         xm=0.02, ym=0.004, frame=(333, 288, 619, 548), tx=392, ty=307, xly=538, ylx=341),
    dict(key="P6", xt=P6_XT, yt=P6_YT, box=(47, 599, 267, 801), xr=[-0.3086, -0.18], yr=[-0.15, 0.0601],
         xm=0.004, ym=0.01, frame=(8, 567, 303, 828), tx=67, ty=585, xly=819, ylx=17),
    dict(key="P14", xt=P14_XT, yt=P14_YT, box=(371, 601, 592, 802), xr=[-0.1106, 0.15], yr=[-0.0257, 0.04],
         xm=0.01, ym=0.002, frame=(333, 570, 619, 825), tx=392, ty=587, xly=821, ylx=341),
    dict(key="P8", xt=P8_XT, yt=P8_YT, box=(47, 882, 267, 1083), xr=[-0.2601, -0.08], yr=[-0.1195, 0.0797],
         xm=0.01, ym=0.01, frame=(8, 850, 303, 1112), tx=67, ty=868, xly=1102, ylx=17),
    dict(key="P15", xt=P15_XT, yt=P15_YT, box=(372, 882, 592, 1083), xr=[-0.1106, 0.15], yr=[-0.0262, 0.0356],
         xm=0.01, ym=0.002, frame=(333, 850, 619, 1112), tx=392, ty=868, xly=1102, ylx=341),
    dict(key="P10", xt=P10_XT, yt=P10_YT, box=(47, 1164, 267, 1365), xr=[-0.2094, 0.0198], yr=[-0.0906, 0.0796],
         xm=0.01, ym=0.01, frame=(8, 1132, 303, 1400), tx=67, ty=1149, xly=1380, ylx=17),
]


def fmt(v):
    return f"{v:g}"


def px(x):
    return x / W


def py(y):
    return 1 - y / H


fig = go.Figure()
layout_axes = {}
shapes = []
annotations = []

for i, (p, title) in enumerate(zip(PANELS, TITLES), start=1):
    sx = "" if i == 1 else str(i)
    for (xs, ys), name, col, dash in zip(CURVES[p["key"]], SERIES, COLORS, DASHES):
        fig.add_trace(go.Scatter(
            x=xs, y=ys, mode="lines", name=name, showlegend=False, hoverinfo="skip",
            xaxis="x" + sx, yaxis="y" + sx,
            line=dict(color=col, width=1.35, dash=dash, shape="spline", smoothing=0.6)))

    l, t, r, b = p["box"]
    common = dict(showline=True, linecolor="#000000", linewidth=1.3, zeroline=False,
                  showgrid=True, gridcolor="#8f8f8f", gridwidth=0.8,
                  ticks="inside", ticklen=4, tickwidth=1, tickcolor="#000000",
                  tickfont=dict(family=FONT, size=7, color="#222222"), tickmode="array",
                  fixedrange=True)
    layout_axes["xaxis" + sx] = dict(
        domain=[px(l), px(r)], range=p["xr"], anchor="y" + sx,
        tickvals=p["xt"], ticktext=[fmt(v) for v in p["xt"]],
        minor=dict(tickmode="linear", tick0=0, dtick=p["xm"], showgrid=True, gridcolor="#dadada",
                   gridwidth=0.6, ticks="inside", ticklen=2, tickcolor="#000000"),
        **common)
    layout_axes["yaxis" + sx] = dict(
        domain=[py(b), py(t)], range=p["yr"], anchor="x" + sx,
        tickvals=p["yt"], ticktext=[fmt(v) for v in p["yt"]],
        minor=dict(tickmode="linear", tick0=0, dtick=p["ym"], showgrid=True, gridcolor="#dadada",
                   gridwidth=0.6, ticks="inside", ticklen=2, tickcolor="#000000"),
        **common)

    # panel frame
    fl, ft, fr, fb = p["frame"]
    shapes.append(dict(type="rect", xref="paper", yref="paper", x0=px(fl), x1=px(fr), y0=py(fb), y1=py(ft),
                       line=dict(color="#c6c6c6", width=1), fillcolor="rgba(0,0,0,0)", layer="above"))

    # in-plot key
    xd, yd = "x" + sx + " domain", "y" + sx + " domain"
    ph = b - t
    top, bot = 0.635, 0.345
    shapes.append(dict(type="rect", xref=xd, yref=yd, x0=0.464, x1=1.0, y0=bot, y1=top,
                       line=dict(color="#000000", width=0.8), fillcolor="white", layer="above"))
    for k, (name, col, dash) in enumerate(zip(SERIES, COLORS, DASHES)):
        yk = top - (5.5 + 8 * k) / ph
        shapes.append(dict(type="line", xref=xd, yref=yd, x0=0.479, x1=0.628, y0=yk, y1=yk,
                           line=dict(color=col, width=1.3, dash=dash), layer="above"))
        annotations.append(dict(text=name, xref=xd, yref=yd, x=0.655, y=yk, xanchor="left",
                                yanchor="middle", showarrow=False,
                                font=dict(family=FONT, size=7.5, color="#000000", weight="bold")))

    # titles and axis labels
    annotations.append(dict(text=title, xref="paper", yref="paper", x=px(p["tx"]), y=py(p["ty"]),
                            xanchor="left", yanchor="middle", showarrow=False,
                            font=dict(family=FONT, size=11, color="#000000", weight="bold")))
    annotations.append(dict(text="X (m)", xref="paper", yref="paper", x=px((l + r) / 2), y=py(p["xly"]),
                            xanchor="center", yanchor="middle", showarrow=False,
                            font=dict(family=FONT, size=9, color="#000000", weight="bold")))
    annotations.append(dict(text="Y (m)", xref="paper", yref="paper", x=px(p["ylx"]), y=py((t + b) / 2),
                            xanchor="center", yanchor="middle", showarrow=False, textangle=-90,
                            font=dict(family=FONT, size=9, color="#000000", weight="bold")))

# big key at lower right
shapes.append(dict(type="rect", xref="paper", yref="paper", x0=px(327), x1=px(650), y0=py(1333), y1=py(1202),
                   line=dict(color="#707070", width=1), fillcolor="white", layer="above"))
for k, (name, col, dash) in enumerate(zip(KEY_SERIES, KEY_COLORS, KEY_DASH)):
    yk = 1220 + 20.6 * k
    shapes.append(dict(type="line", xref="paper", yref="paper", x0=px(329), x1=px(420), y0=py(yk), y1=py(yk),
                       line=dict(color=col, width=2.6, dash=dash), layer="above"))
    annotations.append(dict(text=name, xref="paper", yref="paper", x=px(438), y=py(yk), xanchor="left",
                            yanchor="middle", showarrow=False,
                            font=dict(family=FONT, size=18, color="#000000", weight="bold")))

fig.update_layout(width=W, height=H, margin=dict(l=0, r=0, t=0, b=0),
                  paper_bgcolor="white", plot_bgcolor="white", showlegend=False,
                  shapes=shapes, annotations=annotations, **layout_axes)

fig.write_html("out.html", config={"displayModeBar": False},
               post_script="document.body.style.margin='0';document.body.style.overflow='hidden';")
